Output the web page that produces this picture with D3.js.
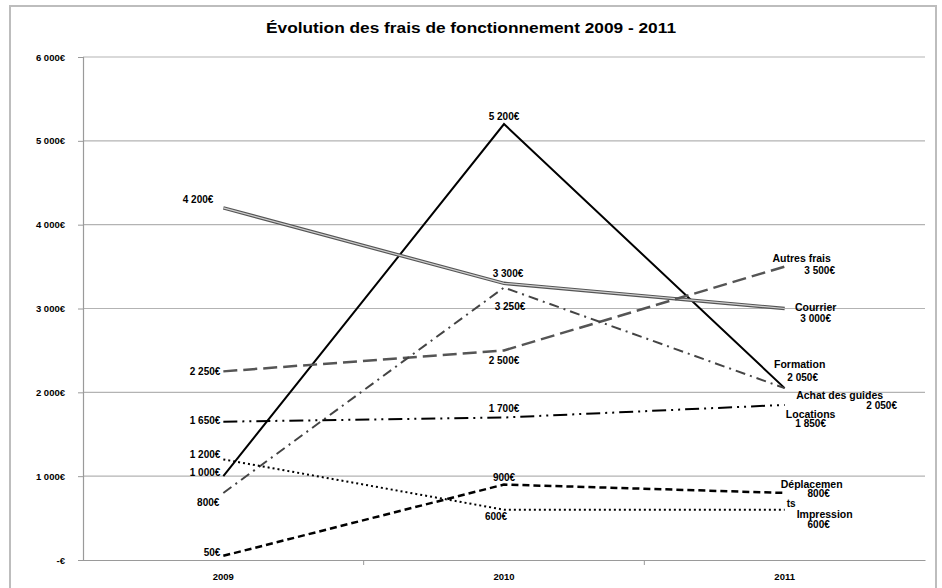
<!DOCTYPE html>
<html>
<head>
<meta charset="utf-8">
<script src="https://cdn.jsdelivr.net/npm/d3@7"></script>
<style>
  body { margin: 0; background: #fff; }
  svg { display: block; }
</style>
</head>
<body>
<script>
const years = ["2009", "2010", "2011"];
const seriesNames = ["Formation", "Courrier", "Autres frais", "Achat des guides", "Locations", "Déplacements", "Impression"];
const formation = [1000, 5200, 2050];
const courrier = [4200, 3300, 3000];
const autresFrais = [2250, 2500, 3500];
const achatGuides = [800, 3250, 2050];
const locations = [1650, 1700, 1850];
const deplacements = [50, 900, 800];
const impression = [1200, 600, 600];
const yTicks = [0, 1000, 2000, 3000, 4000, 5000, 6000];

const width = 942, height = 588;
const margin = {top: 57, right: 17, bottom: 28, left: 83};

const fmt = v => v === 0 ? "-€" : d3.format(",")(v).replace(",", " ") + "€";

// styles + label offsets per series: [dx, dy] for 2009 / 2010 labels, end label block
const series = [
  {name: seriesNames[0], values: formation, stroke: "#000", w: 2, dash: null,
   off: [[-3, -4], [0, -8]], end: {x: 15, y: -24, vx: 18, vy: -11}},
  {name: seriesNames[1], values: courrier, stroke: "#555", w: 3.5, dash: null, dbl: true,
   off: [[-10, -8], [4, -10]], end: {x: 31, y: -1, vx: 31, vy: 10}},
  {name: seriesNames[2], values: autresFrais, stroke: "#555", w: 2.5, dash: "14,6",
   off: [[-3, 0], [0, 10]], end: {x: 17, y: -8, vx: 35, vy: 4}},
  {name: seriesNames[3], values: achatGuides, stroke: "#444", w: 2, dash: "10,5,2,5",
   off: [[-4, 10], [6, 19]], end: {x: 55, y: 7, vx: 97, vy: 17}},
  {name: seriesNames[4], values: locations, stroke: "#000", w: 2, dash: "14,5,2,5,2,5",
   off: [[-3, -1], [0, -9]], end: {x: 26, y: 9, vx: 26, vy: 19}},
  {name: seriesNames[5], values: deplacements, stroke: "#000", w: 2.5, dash: "7,4",
   off: [[-3, -3], [0, -7]], end: {x: 27, y: -9, vx: 34, vy: 1}, split: "Déplacemen"},
  {name: seriesNames[6], values: impression, stroke: "#000", w: 2, dash: "2,3",
   off: [[-3, -5], [-8, 7]], end: {x: 40, y: 5, vx: 34, vy: 15}}
];

const x = d3.scaleBand().domain(years).range([margin.left, width - margin.right]);
const y = d3.scaleLinear().domain([0, 6000]).range([height - margin.bottom, margin.top]);
const cx = d => x(d) + x.bandwidth() / 2;

const svg = d3.select("body").append("svg")
    .attr("width", width)
    .attr("height", height)
    .style("font-family", "'Liberation Sans', Arial, sans-serif")
    .style("font-weight", "bold");

svg.append("rect")
    .attr("x", 10).attr("y", 6)
    .attr("width", 926).attr("height", 600)
    .attr("fill", "#fff")
    .attr("stroke", "#bdbdbd")
    .attr("stroke-width", 2);

svg.append("text")
    .attr("x", width / 2)
    .attr("y", 33)
    .attr("text-anchor", "middle")
    .style("font-size", "15px")
    .attr("textLength", 410)
    .attr("lengthAdjust", "spacingAndGlyphs")
    .text("Évolution des frais de fonctionnement 2009 - 2011");

// gridlines
svg.append("g")
  .selectAll("line")
  .data(yTicks.filter(d => d > 0))
  .join("line")
    .attr("x1", margin.left).attr("x2", width - margin.right)
    .attr("y1", d => y(d)).attr("y2", d => y(d))
    .attr("stroke", "#b3b3b3")
    .attr("stroke-width", 1.2);

const yAxis = svg.append("g")
    .attr("transform", `translate(${margin.left},0)`)
    .call(d3.axisLeft(y).tickValues(yTicks).tickFormat(fmt).tickSize(5).tickPadding(13));
yAxis.select(".domain").attr("stroke", "#9a9a9a").attr("stroke-width", 1.2);
yAxis.selectAll(".tick line").attr("stroke", "#9a9a9a");
yAxis.selectAll("text").style("font-size", "9.5px").style("font-weight", "bold")
    .style("font-family", "'Liberation Sans', Arial, sans-serif").attr("fill", "#000");

const xAxis = svg.append("g")
    .attr("transform", `translate(0,${y(0)})`)
    .call(d3.axisBottom(x).tickSize(0).tickPadding(13));
xAxis.select(".domain").attr("stroke", "#9a9a9a").attr("stroke-width", 1.2);
xAxis.selectAll("text").style("font-size", "9.5px").style("font-weight", "bold")
    .style("font-family", "'Liberation Sans', Arial, sans-serif").attr("fill", "#000");
// category boundary ticks
xAxis.selectAll(".sep")
  .data(years.slice(1))
  .join("line")
    .attr("x1", d => x(d)).attr("x2", d => x(d))
    .attr("y1", 0).attr("y2", 5)
    .attr("stroke", "#9a9a9a");

const line = d3.line().x((d, i) => cx(years[i])).y(d => y(d));

const g = svg.append("g").attr("fill", "none");
series.forEach(s => {
  g.append("path")
      .attr("d", line(s.values))
      .attr("stroke", s.stroke)
      .attr("stroke-width", s.w)
      .attr("stroke-dasharray", s.dash);
  if (s.dbl) {
    g.append("path")
        .attr("d", line(s.values))
        .attr("stroke", "#cfcfcf")
        .attr("stroke-width", 1.2);
  }
});

const labels = svg.append("g").style("font-size", "10px").attr("fill", "#000");
series.forEach(s => {
  // 2009 label, left of point
  labels.append("text")
      .attr("x", cx(years[0]) + s.off[0][0])
      .attr("y", y(s.values[0]) + s.off[0][1])
      .attr("text-anchor", "end")
      .attr("dy", "0.35em")
      .text(fmt(s.values[0]));
  // 2010 label
  labels.append("text")
      .attr("x", cx(years[1]) + s.off[1][0])
      .attr("y", y(s.values[1]) + s.off[1][1])
      .attr("text-anchor", "middle")
      .attr("dy", "0.35em")
      .text(fmt(s.values[1]));
  // 2011 label: series name + value
  const ex = cx(years[2]), ey = y(s.values[2]);
  labels.append("text")
      .attr("x", ex + s.end.x)
      .attr("y", ey + s.end.y)
      .attr("text-anchor", "middle")
      .attr("dy", "0.35em")
      .style("font-size", "10.5px")
      .text(s.split || s.name);
  if (s.split) {
    labels.append("text")
        .attr("x", ex + 2)
        .attr("y", ey + s.end.vy + 10)
        .attr("dy", "0.35em")
        .text(s.name.slice(s.split.length));
  }
  labels.append("text")
      .attr("x", ex + s.end.vx)
      .attr("y", ey + s.end.vy)
      .attr("text-anchor", "middle")
      .attr("dy", "0.35em")
      .text(fmt(s.values[2]));
});
</script>
</body>
</html>
